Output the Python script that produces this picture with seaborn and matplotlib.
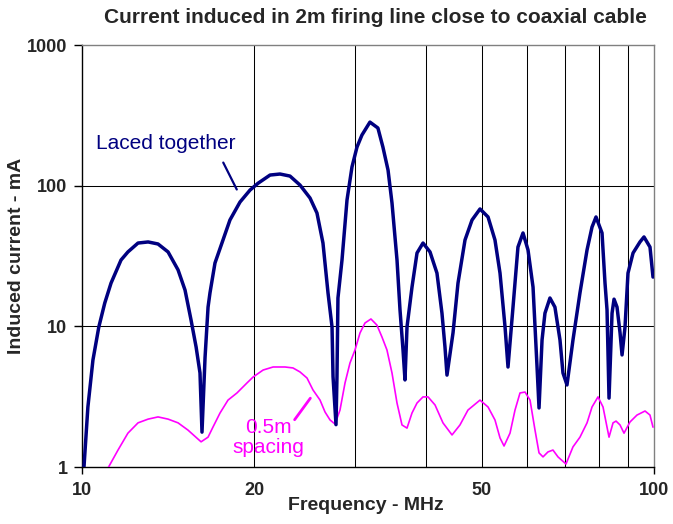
import pandas as pd
import seaborn as sns
import matplotlib.pyplot as plt
from matplotlib.ticker import FixedLocator, FixedFormatter, NullLocator

# Frequenz (MHz) und induzierter Strom (mA)
freq_laced = [10.08, 10.24, 10.45, 10.70, 10.96, 11.24, 11.70, 12.03, 12.53, 13.05,
              13.58, 14.14, 14.72, 15.14, 15.51, 15.83, 16.08, 16.21, 16.41, 16.61,
              16.74, 17.08, 17.64, 18.14, 18.89, 19.67, 20.31, 21.32, 22.19, 23.10,
              24.05, 25.04, 25.75, 26.38, 26.92, 27.36, 27.47, 27.80, 27.91, 28.02,
              28.48, 29.06, 29.65, 30.25, 30.86, 31.87, 32.91, 33.58, 34.28, 34.83,
              35.54, 35.97, 36.41, 36.70, 37.00, 37.75, 38.52, 39.46, 40.59, 41.74,
              42.59, 43.11, 43.46, 44.53, 45.43, 46.73, 48.07, 49.64, 51.27, 52.72,
              53.80, 54.90, 55.56, 56.69, 57.83, 59.02, 60.22, 61.45, 62.45, 62.95,
              63.72, 64.47, 65.78, 67.11, 68.49, 69.32, 70.45, 72.17, 74.23, 76.37,
              77.92, 79.18, 81.12, 82.10, 82.77, 83.44, 84.46, 85.14, 86.17, 87.22,
              87.93, 88.99, 90.06, 91.91, 94.51, 96.05, 98.40, 99.60]
current_laced = [1.0, 2.67, 5.76, 9.89, 14.65, 20.3, 29.6, 33.8, 39.1, 39.8,
                 38.5, 33.8, 25.2, 18.1, 11.1, 7.13, 4.66, 1.77, 6.0, 13.7,
                 17.3, 28.2, 41.1, 57.0, 76.5, 93.1, 104, 119, 121, 117,
                 101, 81.7, 63.9, 39.1, 17.3, 9.9, 4.4, 2.0, 4.4, 15.9,
                 29.6, 79.1, 136, 188, 229, 283, 257, 188, 129, 75.3,
                 29.6, 13.1, 6.8, 4.16, 9.9, 19.0, 33.2, 39.1, 33.8, 23.9,
                 12.4, 7.13, 4.5, 9.0, 20.3, 41.1, 57.0, 68.3, 59.9, 41.1,
                 23.9, 9.9, 5.14, 13.7, 36.6, 46.1, 34.9, 19.0, 5.14, 2.63,
                 8.0, 12.4, 15.9, 13.7, 8.0, 4.66, 3.83, 8.0, 17.3, 34.9,
                 50.8, 59.9, 46.1, 20.3, 13.1, 3.09, 12.4, 15.6, 13.7, 9.0,
                 6.26, 9.9, 23.9, 33.2, 39.8, 43.2, 36.6, 22.4]

freq_spaced = [11.13, 11.56, 12.03, 12.53, 13.05, 13.58, 14.14, 14.72, 15.32, 16.15,
               16.61, 16.94, 17.43, 18.00, 18.66, 19.43, 19.91, 20.73, 21.58, 22.64,
               23.38, 24.05, 24.74, 25.34, 26.07, 26.60, 27.14, 27.69, 28.25, 28.83,
               29.41, 30.01, 30.62, 31.24, 32.00, 32.78, 33.45, 34.13, 34.83, 35.54,
               36.26, 37.00, 37.75, 38.52, 39.46, 40.27, 41.42, 42.76, 44.35, 45.79,
               47.29, 49.64, 51.27, 52.72, 53.80, 54.68, 56.01, 57.15, 58.31, 59.50,
               60.71, 61.94, 62.95, 63.97, 65.26, 66.58, 67.94, 70.17, 72.17, 74.23,
               76.37, 77.92, 79.82, 81.45, 82.77, 83.44, 84.80, 85.83, 87.22, 88.63,
               90.79, 93.38, 96.45, 98.40, 99.60]
current_spaced = [1.0, 1.32, 1.74, 2.06, 2.19, 2.27, 2.19, 2.06, 1.83, 1.51,
                  1.63, 1.92, 2.42, 2.99, 3.36, 3.96, 4.36, 4.89, 5.14, 5.14,
                  5.06, 4.74, 4.29, 3.53, 2.99, 2.46, 2.16, 2.02, 2.54, 3.96,
                  5.49, 6.79, 8.97, 10.56, 11.28, 10.2, 8.4, 6.79, 4.66, 2.85,
                  1.99, 1.89, 2.42, 2.85, 3.15, 3.15, 2.76, 2.06, 1.69, 1.99,
                  2.54, 2.99, 2.67, 2.16, 1.61, 1.41, 1.74, 2.54, 3.36, 3.41,
                  2.99, 1.83, 1.26, 1.18, 1.28, 1.32, 1.18, 1.05, 1.39, 1.63,
                  2.06, 2.67, 3.15, 2.67, 1.92, 1.63, 2.06, 2.12, 1.99, 1.74,
                  2.09, 2.34, 2.50, 2.34, 1.92]

x_major = [10, 100]
x_major_labels = ['10', '100']
x_minor = [20, 30, 40, 50, 60, 70, 80, 90]
x_minor_labels = ['20', '', '', '50', '', '', '', '']
y_ticks = [1, 10, 100, 1000]
y_tick_labels = ['1', '10', '100', '1000']

NAVY = '#000080'
MAGENTA = '#FF00FF'

sns.set_theme(style='white')
plt.rcParams['font.family'] = ['Liberation Sans', 'DejaVu Sans']

fig = plt.figure(figsize=(6.73, 5.24), dpi=100)
ax = fig.add_axes([82 / 673, 1 - 467 / 524, 572 / 673, 422 / 524])
ax.set_xscale('log')
ax.set_yscale('log')

df_laced = pd.DataFrame({'freq': freq_laced, 'current': current_laced})
df_spaced = pd.DataFrame({'freq': freq_spaced, 'current': current_spaced})

sns.lineplot(data=df_spaced, x='freq', y='current', ax=ax, color=MAGENTA,
             lw=1.2, estimator=None, zorder=3, solid_joinstyle='round')
sns.lineplot(data=df_laced, x='freq', y='current', ax=ax, color=NAVY,
             lw=2.5, estimator=None, zorder=4, solid_joinstyle='round')

ax.set_xlim(10, 100)
ax.set_ylim(1, 1000)

# Achsen / Ticks
ax.xaxis.set_major_locator(FixedLocator(x_major))
ax.xaxis.set_major_formatter(FixedFormatter(x_major_labels))
ax.xaxis.set_minor_locator(FixedLocator(x_minor))
ax.xaxis.set_minor_formatter(FixedFormatter(x_minor_labels))
ax.yaxis.set_major_locator(FixedLocator(y_ticks))
ax.yaxis.set_major_formatter(FixedFormatter(y_tick_labels))
ax.yaxis.set_minor_locator(NullLocator())

ax.tick_params(axis='x', which='major', bottom=True, direction='out', length=5,
               width=1, color='black', pad=6, labelsize=13)
ax.tick_params(axis='x', which='minor', bottom=True, length=0, pad=11, labelsize=13)
ax.tick_params(axis='y', which='major', left=True, direction='out', length=5.5,
               width=1, color='black', pad=5, labelsize=13)
for lab in ax.get_xticklabels(minor=True) + ax.get_xticklabels() + ax.get_yticklabels():
    lab.set_fontweight('bold')

ax.grid(True, which='minor', axis='x', color='black', lw=0.75)
ax.grid(True, which='major', axis='y', color='black', lw=0.75)
ax.grid(False, which='major', axis='x')
ygl = ax.get_ygridlines()
ygl[0].set_visible(False)
ygl[-1].set_visible(False)

for side in ['left', 'bottom']:
    ax.spines[side].set_color('black')
    ax.spines[side].set_linewidth(1)
for side in ['top', 'right']:
    ax.spines[side].set_color('#808080')
    ax.spines[side].set_linewidth(1)

ax.set_xlabel('Frequency - MHz', fontsize=14, fontweight='bold', va='center')
ax.xaxis.set_label_coords(0.4965, -0.092)
ax.set_ylabel('Induced current - mA', fontsize=14, fontweight='bold', va='center')
ax.yaxis.set_label_coords(-0.114, 0.5)

fig.text(0.558, 0.966, 'Current induced in 2m firing line close to coaxial cable',
         ha='center', va='center', fontsize=15, fontweight='bold')

# Beschriftungen
ax.text(14.03, 201, 'Laced together', color=NAVY, fontsize=15, ha='center', va='center')
ax.annotate('', xy=(18.74, 90.2), xytext=(17.57, 152),
            arrowprops=dict(arrowstyle='-', color=NAVY, lw=1.6))
ax.text(21.2, 1.63, '0.5m\nspacing', color=MAGENTA, fontsize=15, ha='center',
        va='center', linespacing=1.05)
ax.annotate('', xy=(25.24, 3.2), xytext=(23.38, 2.09),
            arrowprops=dict(arrowstyle='-', color=MAGENTA, lw=2))

fig.savefig('out.png', dpi=100)
